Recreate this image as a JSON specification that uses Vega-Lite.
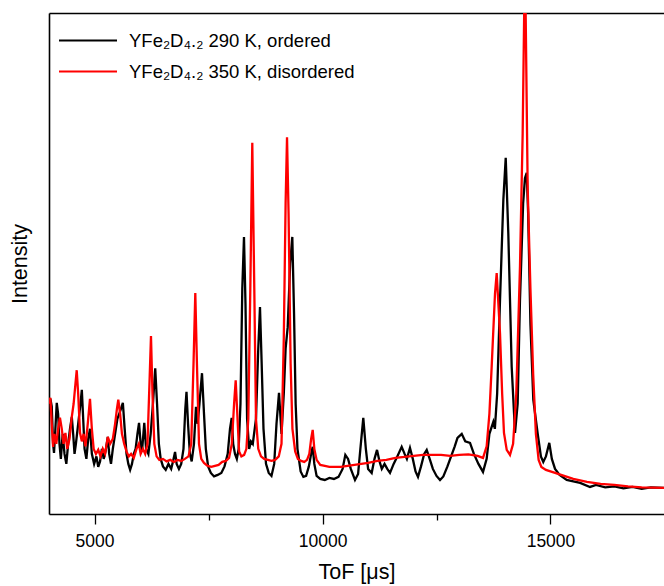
{
  "$schema": "https://vega.github.io/schema/vega-lite/v6.json",
  "width": 615,
  "height": 501,
  "autosize": {"type": "none"},
  "padding": {"left": 49, "top": 13, "right": 0, "bottom": 72},
  "background": "white",
  "config": {
    "view": {"stroke": null},
    "font": "Liberation Sans",
    "axis": {"grid": false, "domainColor": "#000000", "domainWidth": 1.6, "tickColor": "#000000", "tickWidth": 1.3, "labelColor": "#000000", "titleColor": "#000000", "titleFontWeight": "normal"}
  },
  "datasets": {
    "black": [
      {"t":4000,"i":21},{"t":4030,"i":23},{"t":4060,"i":21.5},{"t":4090,"i":14},{"t":4110,"i":12.2},{"t":4140,"i":17},{"t":4170,"i":22.2},{"t":4200,"i":20},{"t":4230,"i":14},{"t":4260,"i":11},{"t":4300,"i":16},{"t":4340,"i":12},{"t":4380,"i":10},{"t":4420,"i":14},{"t":4460,"i":17},{"t":4500,"i":19.4},{"t":4530,"i":16},{"t":4560,"i":12},{"t":4590,"i":14},{"t":4640,"i":18},{"t":4690,"i":22},{"t":4720,"i":24.8},{"t":4750,"i":19},{"t":4780,"i":13},{"t":4820,"i":11},{"t":4860,"i":15},{"t":4900,"i":17},{"t":4940,"i":12},{"t":4990,"i":10},{"t":5040,"i":11.5},{"t":5080,"i":9.4},{"t":5120,"i":10.5},{"t":5160,"i":13},{"t":5200,"i":11},{"t":5240,"i":12.5},{"t":5290,"i":15.4},{"t":5320,"i":12},{"t":5360,"i":10},{"t":5400,"i":13},{"t":5450,"i":16},{"t":5500,"i":19},{"t":5560,"i":20.5},{"t":5620,"i":22.2},{"t":5660,"i":17},{"t":5700,"i":12},{"t":5740,"i":10},{"t":5780,"i":8.8},{"t":5820,"i":10},{"t":5860,"i":12},{"t":5900,"i":13},{"t":5940,"i":16},{"t":5975,"i":18.2},{"t":6010,"i":14},{"t":6040,"i":12.5},{"t":6090,"i":18.2},{"t":6130,"i":13},{"t":6180,"i":12},{"t":6230,"i":16},{"t":6280,"i":22},{"t":6330,"i":29.1},{"t":6370,"i":22},{"t":6410,"i":14},{"t":6450,"i":11},{"t":6500,"i":9.5},{"t":6560,"i":8.8},{"t":6620,"i":10},{"t":6680,"i":9},{"t":6720,"i":10.5},{"t":6765,"i":12.4},{"t":6800,"i":10},{"t":6850,"i":9},{"t":6900,"i":10},{"t":6950,"i":13},{"t":6990,"i":21},{"t":7016,"i":24.4},{"t":7050,"i":18},{"t":7090,"i":12},{"t":7130,"i":10.5},{"t":7180,"i":14},{"t":7224,"i":21.4},{"t":7260,"i":18},{"t":7300,"i":22},{"t":7356,"i":28.1},{"t":7400,"i":20},{"t":7440,"i":13},{"t":7490,"i":9.5},{"t":7550,"i":8.2},{"t":7620,"i":7.5},{"t":7700,"i":7.8},{"t":7780,"i":8.2},{"t":7850,"i":9.5},{"t":7920,"i":12},{"t":7970,"i":17},{"t":8007,"i":19.2},{"t":8040,"i":14},{"t":8080,"i":12},{"t":8120,"i":11},{"t":8160,"i":13},{"t":8200,"i":22},{"t":8240,"i":45},{"t":8277,"i":55.3},{"t":8310,"i":42},{"t":8345,"i":19},{"t":8390,"i":13},{"t":8430,"i":14.5},{"t":8470,"i":14},{"t":8540,"i":19},{"t":8590,"i":33},{"t":8628,"i":41.3},{"t":8665,"i":30},{"t":8705,"i":17},{"t":8760,"i":10},{"t":8820,"i":8.2},{"t":8880,"i":7.6},{"t":8940,"i":10},{"t":8990,"i":18},{"t":9045,"i":24.2},{"t":9100,"i":16},{"t":9150,"i":24},{"t":9190,"i":33},{"t":9236,"i":37.3},{"t":9290,"i":50},{"t":9337,"i":55.3},{"t":9375,"i":40},{"t":9410,"i":22},{"t":9450,"i":13},{"t":9520,"i":8.5},{"t":9580,"i":7.4},{"t":9640,"i":7.6},{"t":9700,"i":9.5},{"t":9750,"i":12},{"t":9784,"i":13.4},{"t":9820,"i":10},{"t":9870,"i":7.6},{"t":9950,"i":7.0},{"t":10050,"i":6.8},{"t":10150,"i":7.2},{"t":10250,"i":7.0},{"t":10350,"i":7.4},{"t":10440,"i":9},{"t":10500,"i":11.8},{"t":10560,"i":11},{"t":10620,"i":9},{"t":10712,"i":6.8},{"t":10780,"i":8},{"t":10830,"i":13},{"t":10894,"i":19.2},{"t":10950,"i":13},{"t":11000,"i":9},{"t":11078,"i":8.2},{"t":11140,"i":11},{"t":11195,"i":12.8},{"t":11250,"i":10.5},{"t":11300,"i":9},{"t":11360,"i":10},{"t":11420,"i":9},{"t":11480,"i":8.2},{"t":11560,"i":10},{"t":11640,"i":11.5},{"t":11736,"i":13.4},{"t":11800,"i":12},{"t":11850,"i":11},{"t":11918,"i":13.2},{"t":11980,"i":11},{"t":12040,"i":8.5},{"t":12094,"i":7.4},{"t":12160,"i":9.5},{"t":12230,"i":12},{"t":12285,"i":12.8},{"t":12350,"i":11},{"t":12420,"i":9},{"t":12500,"i":7.6},{"t":12577,"i":6.8},{"t":12650,"i":7.5},{"t":12740,"i":9.5},{"t":12820,"i":11.5},{"t":12900,"i":13.5},{"t":12960,"i":15.2},{"t":13053,"i":16},{"t":13130,"i":14.5},{"t":13235,"i":14.2},{"t":13320,"i":12},{"t":13420,"i":10},{"t":13520,"i":8.4},{"t":13600,"i":11},{"t":13660,"i":16},{"t":13746,"i":18.4},{"t":13780,"i":17},{"t":13830,"i":24},{"t":13893,"i":42.7},{"t":13966,"i":62.7},{"t":14018,"i":71.1},{"t":14075,"i":56},{"t":14149,"i":29.4},{"t":14222,"i":16.2},{"t":14280,"i":22},{"t":14331,"i":42.7},{"t":14400,"i":62},{"t":14440,"i":67},{"t":14478,"i":68.1},{"t":14510,"i":60},{"t":14560,"i":38},{"t":14623,"i":22.8},{"t":14660,"i":20.2},{"t":14720,"i":16},{"t":14790,"i":11.5},{"t":14842,"i":10.4},{"t":14900,"i":11.5},{"t":14974,"i":14.2},{"t":15030,"i":11},{"t":15100,"i":9},{"t":15200,"i":7.8},{"t":15356,"i":6.8},{"t":15500,"i":6.5},{"t":15650,"i":6.2},{"t":15867,"i":5.4},{"t":16000,"i":5.8},{"t":16200,"i":5.3},{"t":16400,"i":5.5},{"t":16600,"i":5.1},{"t":16800,"i":5.4},{"t":17000,"i":5.0},{"t":17200,"i":5.3},{"t":17490,"i":5.2}
    ],
    "red": [
      {"t":4000,"i":22},{"t":4030,"i":23.2},{"t":4060,"i":18},{"t":4090,"i":13.4},{"t":4120,"i":16},{"t":4160,"i":14},{"t":4200,"i":17},{"t":4240,"i":19.2},{"t":4280,"i":17},{"t":4320,"i":14},{"t":4360,"i":16.2},{"t":4400,"i":13},{"t":4450,"i":15},{"t":4500,"i":19.4},{"t":4540,"i":22},{"t":4580,"i":26},{"t":4608,"i":28.7},{"t":4640,"i":24},{"t":4680,"i":16.2},{"t":4720,"i":14.5},{"t":4760,"i":16},{"t":4800,"i":13.5},{"t":4850,"i":18},{"t":4899,"i":23.0},{"t":4940,"i":17},{"t":4980,"i":13},{"t":5030,"i":12},{"t":5080,"i":12.8},{"t":5130,"i":11.5},{"t":5180,"i":13},{"t":5230,"i":12},{"t":5290,"i":15.4},{"t":5340,"i":14},{"t":5400,"i":15},{"t":5450,"i":18},{"t":5490,"i":21},{"t":5520,"i":22.8},{"t":5560,"i":20},{"t":5600,"i":16},{"t":5650,"i":14},{"t":5700,"i":12.5},{"t":5750,"i":11.5},{"t":5800,"i":12},{"t":5860,"i":11.2},{"t":5920,"i":13},{"t":5970,"i":14},{"t":6010,"i":12},{"t":6060,"i":13},{"t":6110,"i":12},{"t":6160,"i":14},{"t":6200,"i":25},{"t":6237,"i":35.5},{"t":6270,"i":24},{"t":6310,"i":14},{"t":6360,"i":11.5},{"t":6420,"i":10.8},{"t":6500,"i":11},{"t":6580,"i":10.5},{"t":6660,"i":10.8},{"t":6740,"i":10.4},{"t":6820,"i":10.8},{"t":6900,"i":10.6},{"t":6980,"i":11},{"t":7060,"i":11.5},{"t":7120,"i":14},{"t":7170,"i":30},{"t":7209,"i":44.1},{"t":7245,"i":30},{"t":7290,"i":14},{"t":7340,"i":11},{"t":7400,"i":10.2},{"t":7480,"i":9.6},{"t":7560,"i":9.4},{"t":7640,"i":9.6},{"t":7720,"i":9.8},{"t":7800,"i":10.4},{"t":7880,"i":10.6},{"t":7950,"i":11.2},{"t":8010,"i":14},{"t":8060,"i":22},{"t":8095,"i":26.7},{"t":8130,"i":20},{"t":8170,"i":12.5},{"t":8220,"i":11.5},{"t":8280,"i":11.8},{"t":8330,"i":13},{"t":8372,"i":19},{"t":8416,"i":45},{"t":8459,"i":74.1},{"t":8503,"i":45},{"t":8540,"i":19},{"t":8590,"i":13},{"t":8650,"i":11.5},{"t":8720,"i":11},{"t":8800,"i":10.8},{"t":8880,"i":10.6},{"t":8960,"i":10.8},{"t":9040,"i":11.5},{"t":9100,"i":14},{"t":9150,"i":35},{"t":9190,"i":62},{"t":9221,"i":75.2},{"t":9255,"i":60},{"t":9300,"i":30},{"t":9340,"i":17},{"t":9400,"i":12.5},{"t":9460,"i":11},{"t":9530,"i":10.6},{"t":9600,"i":10.4},{"t":9660,"i":10.8},{"t":9710,"i":12},{"t":9750,"i":15},{"t":9784,"i":16.8},{"t":9820,"i":13},{"t":9870,"i":10.8},{"t":9950,"i":9.8},{"t":10050,"i":9.6},{"t":10150,"i":9.4},{"t":10250,"i":9.4},{"t":10400,"i":9.4},{"t":10550,"i":9.6},{"t":10700,"i":9.8},{"t":10850,"i":10.0},{"t":11000,"i":10.2},{"t":11200,"i":10.6},{"t":11400,"i":10.8},{"t":11600,"i":11.2},{"t":11800,"i":11.4},{"t":12000,"i":11.6},{"t":12200,"i":11.8},{"t":12400,"i":11.8},{"t":12600,"i":11.8},{"t":12800,"i":11.6},{"t":13000,"i":11.8},{"t":13200,"i":11.9},{"t":13400,"i":11.6},{"t":13520,"i":11.2},{"t":13600,"i":13.5},{"t":13660,"i":20},{"t":13710,"i":29.4},{"t":13783,"i":44},{"t":13820,"i":48.1},{"t":13893,"i":36},{"t":13940,"i":24},{"t":13980,"i":16.2},{"t":14040,"i":12.8},{"t":14112,"i":11.8},{"t":14180,"i":14},{"t":14250,"i":24},{"t":14331,"i":49.4},{"t":14390,"i":76},{"t":14440,"i":112},{"t":14500,"i":65},{"t":14560,"i":45},{"t":14620,"i":28},{"t":14680,"i":16},{"t":14740,"i":10.8},{"t":14800,"i":9.4},{"t":14900,"i":8.8},{"t":15100,"i":8.2},{"t":15300,"i":7.6},{"t":15500,"i":7.0},{"t":15800,"i":6.4},{"t":16100,"i":6.0},{"t":16400,"i":5.8},{"t":16700,"i":5.5},{"t":17000,"i":5.3},{"t":17490,"i":5.2}
    ]
  },
  "layer": [
    {
      "data": {"name": "black"},
      "mark": {"type": "line", "clip": true, "strokeWidth": 2.3},
      "encoding": {
        "x": {
          "field": "t", "type": "quantitative",
          "scale": {"domain": [4000, 17490], "nice": false, "zero": false},
          "axis": {
            "orient": "bottom",
            "values": [5000, 7500, 10000, 12500, 15000],
            "labelExpr": "datum.value % 5000 === 0 ? format(datum.value, 'd') : ''",
            "tickSize": {"condition": {"test": "datum.value % 5000 === 0", "value": 10}, "value": 6},
            "labelPadding": 8,
            "labelFontSize": 17.5,
            "labelFlush": false,
            "title": "ToF [μs]",
            "titleFontSize": 21.5,
            "titlePadding": 12
          }
        },
        "y": {
          "field": "i", "type": "quantitative",
          "scale": {"domain": [0, 100], "nice": false, "zero": false},
          "axis": {"title": "Intensity", "labels": false, "ticks": false, "titleFontSize": 21.5, "titlePadding": 18}
        },
        "color": {
          "datum": "YFe₂D₄.₂ 290 K, ordered",
          "type": "nominal",
          "scale": {"domain": ["YFe₂D₄.₂ 290 K, ordered", "YFe₂D₄.₂ 350 K, disordered"], "range": ["#000000", "#ff0000"]},
          "legend": {
            "orient": "none", "legendX": 9, "legendY": 13, "title": null,
            "symbolType": "stroke", "symbolSize": 3364, "symbolStrokeWidth": 2,
            "labelFontSize": 18.5, "labelColor": "#000000", "labelLimit": 500,
            "clipHeight": 29, "rowPadding": 2, "labelOffset": 11, "padding": 0
          }
        }
      }
    },
    {
      "data": {"name": "red"},
      "mark": {"type": "line", "clip": true, "strokeWidth": 2.3},
      "encoding": {
        "x": {
          "field": "t", "type": "quantitative",
          "axis": {"orient": "top", "labels": false, "ticks": false, "title": null}
        },
        "y": {
          "field": "i", "type": "quantitative",
          "axis": {"title": "Intensity", "labels": false, "ticks": false, "titleFontSize": 21.5, "titlePadding": 18}
        },
        "color": {
          "datum": "YFe₂D₄.₂ 350 K, disordered",
          "type": "nominal",
          "legend": {
            "orient": "none", "legendX": 9, "legendY": 13, "title": null,
            "symbolType": "stroke", "symbolSize": 3364, "symbolStrokeWidth": 2,
            "labelFontSize": 18.5, "labelColor": "#000000", "labelLimit": 500,
            "clipHeight": 29, "rowPadding": 2, "labelOffset": 11, "padding": 0
          }
        }
      }
    }
  ],
  "resolve": {"axis": {"x": "independent"}}
}
